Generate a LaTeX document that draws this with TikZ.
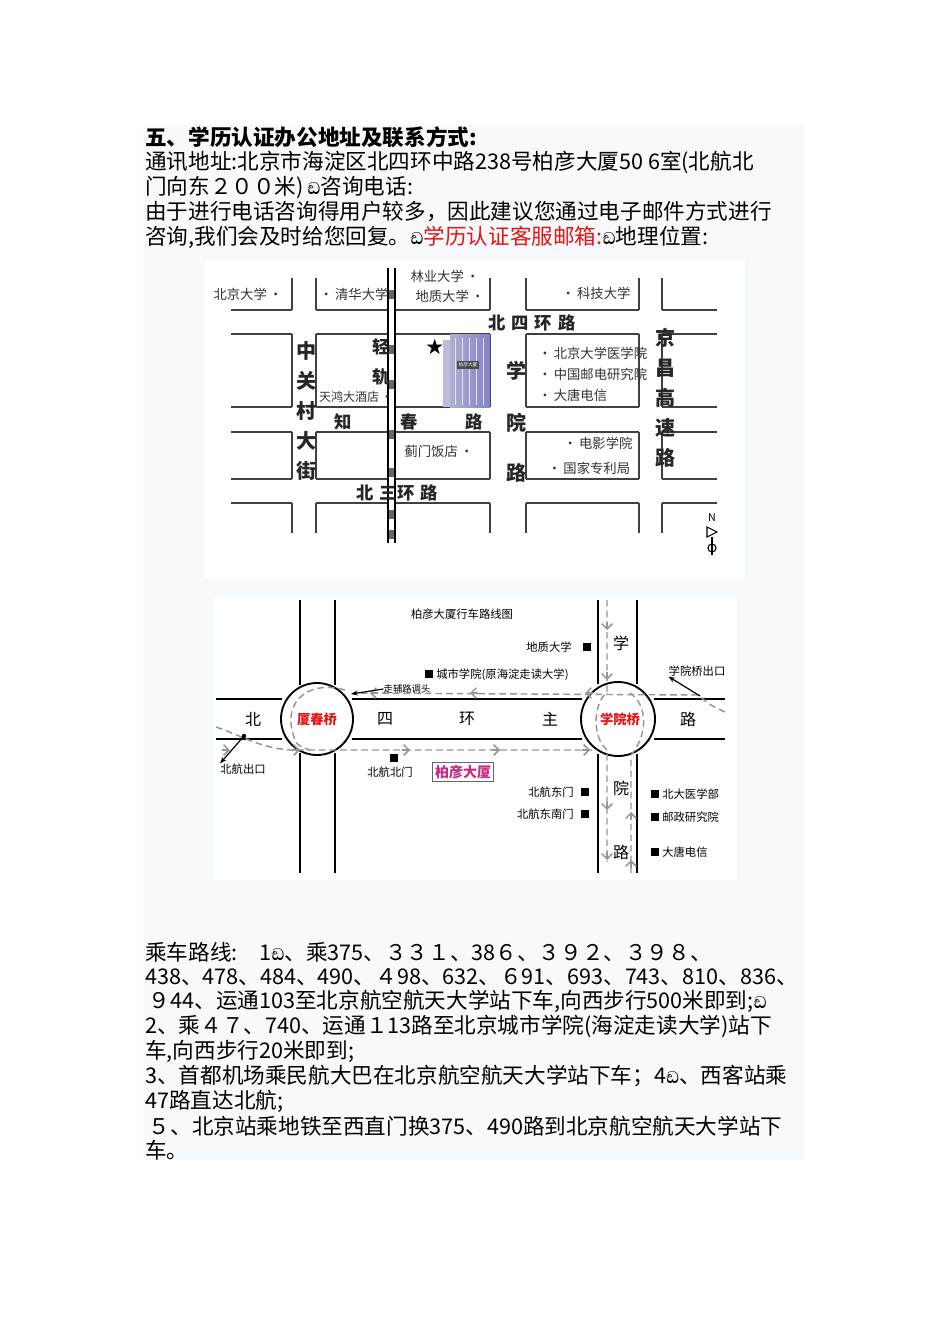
\documentclass[tikz,border=0pt]{standalone}
\usepackage{fontspec}
\setmainfont{Noto Sans CJK SC}
\newfontfamily\symfont{Abhaya Libre}
\usetikzlibrary{arrows.meta,shapes.geometric}
\definecolor{panel}{RGB}{246,250,253}
\definecolor{redt}{RGB}{230,20,20}
\definecolor{dashc}{RGB}{150,150,150}
\def\phic{{\symfont\bfseries\symbol{"0DA9}}}
\begin{document}
\begin{tikzpicture}[x=0.75pt,y=-0.75pt,
  body/.style={anchor=west,inner sep=0pt,font=\fontsize{16.2pt}{18pt}\selectfont},
  lab/.style={inner sep=0pt,font=\fontsize{10pt}{11pt}\selectfont,text=black!80},
  big/.style={inner sep=0pt,font=\fontsize{13pt}{14pt}\selectfont\bfseries,text=black!85},
  lab2/.style={inner sep=0pt,font=\fontsize{8.5pt}{9pt}\selectfont},
  big2/.style={inner sep=0pt,font=\fontsize{12pt}{13pt}\selectfont},
  rte/.style={draw=dashc,line width=1.1pt,dash pattern=on 5pt off 3pt},
  rarr/.style={-{Straight Barb[length=4pt]},draw=dashc,line width=1.1pt},
  sq/.style={fill=black,minimum size=6pt,inner sep=0pt}]
\useasboundingbox (0,0) rectangle (950,1344);
\fill[white] (0,0) rectangle (950,1344);
\fill[panel] (143,125) rectangle (805,1160);
% ---- header text
\node[body,font=\fontsize{16.2pt}{18pt}\selectfont\bfseries] (t1) at (145,137) {五、学历认证办公地址及联系方式:};
\node[body] (t2) at (145,162) {通讯地址:北京市海淀区北四环中路238号柏彦大厦50 6室(北航北};
\node[body] (t3) at (145,187) {门向东２００米)\,\phic 咨询电话:};
\node[body] (t4) at (145,212) {由于进行电话咨询得用户较多，因此建议您通过电子邮件方式进行};
\node[body] (t5) at (145,237) {咨询,我们会及时给您回复。\phic\textcolor{redt}{学历认证客服邮箱:}\phic 地理位置:};
% ---- map 1
\fill[white] (205,260) rectangle (745,578);
\begin{scope}[line width=1.3pt,draw=black!75]
\foreach \a/\b in {231/292,316/490,526/639,662/717}{
  \draw (\a,310) -- (\b,310);
  \draw (\a,334) -- (\b,334) (\a,407) -- (\b,407);
  \draw (\a,432) -- (\b,432) (\a,479) -- (\b,479);
  \draw (\a,503) -- (\b,503);}
\foreach \x in {292,316,490,526,639,662}{
  \draw (\x,278) -- (\x,310); \draw (\x,334) -- (\x,407);
  \draw (\x,432) -- (\x,479); \draw (\x,503) -- (\x,533);}
\end{scope}
\fill[white] (388,268) rectangle (395,543);
\draw[line width=1pt] (388,268) -- (388,543) (395,268) -- (395,543);
\foreach \y in {290,345,380,430,468,510,530}{\fill[black!60] (389,\y) rectangle (394,\y+9);}
\shade[left color=blue!25!gray!50,right color=blue!40!gray!70] (450,334) rectangle (490,407);
\fill[blue!30!gray!40] (443,340) rectangle (450,407);
\foreach \x in {455,462,469,476,483}{\draw[white!60!blue!30,line width=0.4pt] (\x,338) -- (\x,405);}
\node[fill=black!70,text=white,inner sep=1pt,font=\fontsize{3.5pt}{4pt}\selectfont] (bld) at (468,365) {柏彦大厦};
\node[inner sep=0pt,font=\fontsize{13pt}{13pt}\selectfont] (star) at (435,347) {★};
\node[lab] (m1) at (248,294) {北京大学\,•};
\node[lab] (m2) at (354,294) {•\,清华大学};
\node[lab] (m3) at (445,276) {林业大学\,•};
\node[lab] (m4) at (450,296) {地质大学\,•};
\node[lab] (m5) at (596,293) {•\,科技大学};
\node[big] (m6) at (532,323) {北\,\,四\,\,环\,\,路};
\node[big,align=center,font=\fontsize{15pt}{22.5pt}\selectfont\bfseries] (m7) at (306,411) {中\\关\\村\\大\\街};
\node[big] (m8) at (381,347) {轻};
\node[big] (m9) at (381,377) {轨};
\node[lab,font=\fontsize{9pt}{10pt}\selectfont] (m10) at (356,397) {天鸿大酒店\,•};
\node[big] (m11) at (343,422) {知};
\node[big] (m12) at (409,422) {春};
\node[big] (m13) at (474,422) {路};
\node[big,font=\fontsize{15pt}{15pt}\selectfont\bfseries] (m14) at (516,371) {学};
\node[big,font=\fontsize{15pt}{15pt}\selectfont\bfseries] (m15) at (516,423) {院};
\node[big,font=\fontsize{15pt}{15pt}\selectfont\bfseries] (m16) at (516,473) {路};
\node[lab,anchor=west] (m17) at (538,353) {•\,北京大学医学院};
\node[lab,anchor=west] (m18) at (538,374) {•\,中国邮电研究院};
\node[lab,anchor=west] (m19) at (538,395) {•\,大唐电信};
\node[lab] (m20) at (598,443) {•\,电影学院};
\node[lab] (m21) at (589,468) {•\,国家专利局};
\node[lab] (m22) at (439,451) {蓟门饭店\,•};
\node[big] (m23) at (397,493) {北\,\,三环\,\,路};
\node[big,align=center,font=\fontsize{15pt}{22.5pt}\selectfont\bfseries] (m24) at (665,398) {京\\昌\\高\\速\\路};
\node[inner sep=0pt,font=\fontsize{8pt}{8pt}\selectfont] (nn) at (712,518) {N};
\draw[line width=0.8pt] (707,527) -- (717,532) -- (707,537) -- cycle;
\draw[line width=0.8pt] (712,537) -- (712,555);
\draw[line width=0.8pt] (712,548) circle (4);
% ---- map 2
\fill[white] (214,598) rectangle (737,880);
\coordinate (c1) at (317,719);
\coordinate (c2) at (618,719);
\begin{scope}[line width=1.4pt]
\draw (216,699) -- (282,699) (352,699) -- (582,699) (654,699) -- (725,699);
\draw (216,739) -- (282,739) (352,739) -- (582,739) (654,739) -- (725,739);
\draw (300,600) -- (300,685) (335,600) -- (335,685) (300,753) -- (300,873) (335,753) -- (335,873);
\draw (598,600) -- (598,684) (637,600) -- (637,684) (598,754) -- (598,873) (637,754) -- (637,873);
\draw (c1) circle (36);
\draw (c2) circle (37);
\end{scope}
% routes
\draw[rte] (725,712) .. controls (710,705) .. (698,695) -- (353,693);
\draw[rte] (345,690) .. controls (310,680) and (285,700) .. (292,730) .. controls (296,745) .. (310,750);
\draw[rte] (216,727) .. controls (240,735) and (260,748) .. (290,750) -- (597,750);
\draw[rte] (607,600) -- (607,693) .. controls (595,700) and (590,735) .. (607,750) -- (607,862);
\draw[rte] (631,873) -- (631,755) .. controls (648,735) and (648,705) .. (630,693);
\foreach \x in {585,470,370}{\draw[rarr] (\x+8,693) -- (\x,693);}
\foreach \x in {230,300,410,500,590}{\draw[rarr] (\x-8,750) -- (\x,750);}
\foreach \y in {630,680,810,860}{\draw[rarr] (607,\y-8) -- (607,\y);}
\foreach \y in {812,860}{\draw[rarr] (631,\y+8) -- (631,\y);}
% labels
\node[lab2] (r0) at (462,614) {柏彦大厦行车路线图};
\node[lab2,anchor=east] (r1) at (572,647) {地质大学};
\node[sq] (s1) at (587,647) {};
\node[sq] (s2) at (429,674) {};
\node[lab2,anchor=west] (r2) at (436,675) {城市学院(原海淀走读大学)};
\node[big2] (r3) at (253,719) {北};
\node[text=redt,inner sep=0pt,font=\fontsize{10pt}{10pt}\selectfont\bfseries] (r4) at (317,719) {厦春桥};
\node[big2] (r5) at (385,719) {四};
\node[big2] (r6) at (467,719) {环};
\node[big2] (r7) at (550,719) {主};
\node[text=redt,inner sep=0pt,font=\fontsize{10pt}{10pt}\selectfont\bfseries] (r8) at (620,719) {学院桥};
\node[big2] (r9) at (688,719) {路};
\node[big2] (r10) at (621,643) {学};
\node[big2] (r11) at (621,788) {院};
\node[big2] (r12) at (621,852) {路};
\node[lab2] (r13) at (243,769) {北航出口};
\fill (244,736) circle (2.2);
\coordinate (e1) at (244,736);
\draw[-{Stealth[length=5pt]},line width=0.9pt] (e1) -- (r13.north west);
\node[lab2] (r14) at (697,671) {学院桥出口};
\coordinate (e2) at (700,696);
\draw[-{Stealth[length=5pt]},line width=0.9pt] (e2) -- (r14.south west);
\node[lab2,font=\fontsize{7pt}{7pt}\selectfont\itshape] (r15) at (407,689) {走辅路调头};
\coordinate (e3) at (351,694);
\draw[-{Stealth[length=5pt]},line width=0.9pt] (r15.west) -- (e3);
\node[sq] (s3) at (394,758) {};
\node[lab2] (r16) at (390,772) {北航北门};
\node[draw=black!60,fill=white,inner sep=2pt,text=magenta!80!black,font=\fontsize{10.5pt}{11pt}\selectfont\bfseries] (r17) at (463,772) {柏彦大厦};
\node[lab2,anchor=east] (r18) at (574,792) {北航东门};
\node[sq] (s4) at (585,792) {};
\node[lab2,anchor=east] (r19) at (574,814) {北航东南门};
\node[sq] (s5) at (585,814) {};
\node[sq] (s6) at (655,794) {};
\node[lab2,anchor=west] (r20) at (662,794) {北大医学部};
\node[sq] (s7) at (655,817) {};
\node[lab2,anchor=west] (r21) at (662,817) {邮政研究院};
\node[sq] (s8) at (655,852) {};
\node[lab2,anchor=west] (r22) at (662,852) {大唐电信};
% ---- footer text
\node[body] (b1) at (145,952) {乘车路线:\quad 1\phic、乘375、３３１、38６、３９２、３９８、};
\node[body] (b2) at (145,977) {438、478、484、490、４98、632、６91、693、743、810、836、};
\node[body] (b3) at (145,1001) {\,９44、运通103至北京航空航天大学站下车,向西步行500米即到;\phic};
\node[body] (b4) at (145,1026) {2、乘４７、740、运通１13路至北京城市学院(海淀走读大学)站下};
\node[body] (b5) at (145,1051) {车,向西步行20米即到;};
\node[body] (b6) at (145,1076) {3、首都机场乘民航大巴在北京航空航天大学站下车；4\phic、西客站乘};
\node[body] (b7) at (145,1101) {47路直达北航;};
\node[body] (b8) at (145,1126) {\,５、北京站乘地铁至西直门换375、490路到北京航空航天大学站下};
\node[body] (b9) at (145,1150) {车。};
\end{tikzpicture}
\end{document}
